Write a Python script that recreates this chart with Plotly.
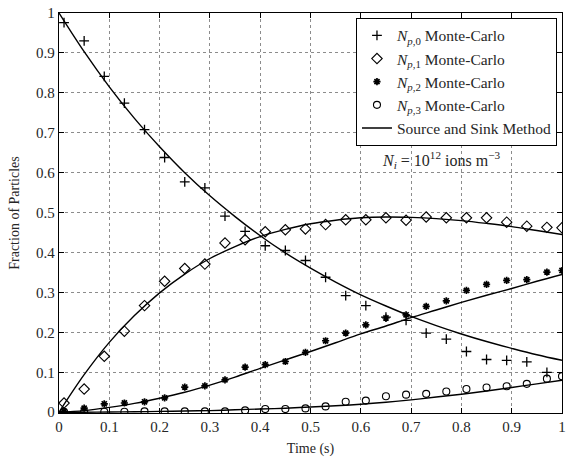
import plotly.graph_objects as go

# Monte-Carlo sample times and values
t_mc = [0.01, 0.05, 0.09, 0.13, 0.17, 0.21, 0.25, 0.29, 0.33, 0.37, 0.41, 0.45, 0.49,
        0.53, 0.57, 0.61, 0.65, 0.69, 0.73, 0.77, 0.81, 0.85, 0.89, 0.93, 0.97, 1.0]
n0_mc = [0.976, 0.930, 0.841, 0.774, 0.708, 0.638, 0.577, 0.562, 0.491, 0.453, 0.417,
         0.405, 0.380, 0.338, 0.292, 0.267, 0.238, 0.230, 0.198, 0.183, 0.152, 0.132,
         0.130, 0.126, 0.100]
n1_mc = [0.023, 0.058, 0.140, 0.203, 0.267, 0.328, 0.360, 0.371, 0.424, 0.432, 0.452,
         0.457, 0.459, 0.470, 0.482, 0.482, 0.487, 0.481, 0.489, 0.487, 0.487, 0.487,
         0.476, 0.466, 0.463, 0.462]
n2_mc = [0.002, 0.010, 0.021, 0.023, 0.026, 0.036, 0.063, 0.066, 0.081, 0.113, 0.119,
         0.127, 0.150, 0.179, 0.198, 0.219, 0.236, 0.244, 0.265, 0.279, 0.305, 0.320,
         0.330, 0.332, 0.351, 0.355]
n3_mc = [0.001, 0.001, 0.001, 0.001, 0.002, 0.002, 0.002, 0.002, 0.002, 0.0045, 0.008,
         0.008, 0.0095, 0.0145, 0.026, 0.029, 0.040, 0.044, 0.046, 0.052, 0.058, 0.062,
         0.065, 0.071, 0.084, 0.090]

# Source and Sink Method curves
t_ss = [0.0, 0.05, 0.1, 0.15, 0.2, 0.25, 0.3, 0.35, 0.4, 0.45, 0.5, 0.55, 0.6, 0.65,
        0.7, 0.75, 0.8, 0.85, 0.9, 0.95, 1.0]
n0_ss = [1.0, 0.903, 0.815, 0.736, 0.665, 0.600, 0.542, 0.490, 0.442, 0.399, 0.361,
         0.326, 0.294, 0.266, 0.240, 0.217, 0.196, 0.177, 0.160, 0.144, 0.130]
n1_ss = [0.0, 0.094, 0.175, 0.242, 0.299, 0.346, 0.385, 0.415, 0.440, 0.458, 0.472,
         0.481, 0.487, 0.489, 0.488, 0.485, 0.480, 0.473, 0.465, 0.455, 0.445]
n2_ss = [0.0, 0.004, 0.012, 0.022, 0.035, 0.050, 0.068, 0.088, 0.110, 0.131, 0.152,
         0.174, 0.196, 0.216, 0.237, 0.256, 0.275, 0.293, 0.310, 0.328, 0.345]
n3_ss = [0.0, 0.0, 0.0005, 0.001, 0.002, 0.003, 0.004, 0.006, 0.008, 0.010, 0.013,
         0.016, 0.020, 0.025, 0.031, 0.038, 0.045, 0.053, 0.062, 0.071, 0.080]

x_ticks = [0, 0.1, 0.2, 0.3, 0.4, 0.5, 0.6, 0.7, 0.8, 0.9, 1]
x_labels = ["0", "0.1", "0.2", "0.3", "0.4", "0.5", "0.6", "0.7", "0.8", "0.9", "1"]
y_ticks = [0, 0.1, 0.2, 0.3, 0.4, 0.5, 0.6, 0.7, 0.8, 0.9, 1]
y_labels = ["0", "0.1", "0.2", "0.3", "0.4", "0.5", "0.6", "0.7", "0.8", "0.9", "1"]

FONT = "Liberation Serif"
TXT = "#262626"

fig = go.Figure()

mc_series = [
    (n0_mc, "<i>N</i><sub><i>p</i>,0</sub> Monte-Carlo", "cross-thin", 7, 1.3),
    (n1_mc, "<i>N</i><sub><i>p</i>,1</sub> Monte-Carlo", "diamond-open", 8, 1.1),
    (n2_mc, "<i>N</i><sub><i>p</i>,2</sub> Monte-Carlo", "asterisk-open", 6, 1.7),
    (n3_mc, "<i>N</i><sub><i>p</i>,3</sub> Monte-Carlo", "circle-open", 7, 1.1),
]
for vals, name, sym, size, lw in mc_series:
    fig.add_trace(go.Scatter(
        x=t_mc[:len(vals)], y=vals, mode="markers", name=name,
        marker=dict(symbol=sym, size=size, color="black",
                    line=dict(color="black", width=lw)),
    ))

for i, vals in enumerate([n0_ss, n1_ss, n2_ss, n3_ss]):
    fig.add_trace(go.Scatter(
        x=t_ss, y=vals, mode="lines", name="Source and Sink Method",
        line=dict(color="black", width=1.4, shape="spline"),
        showlegend=(i == 0),
    ))

axis_common = dict(
    showline=True, linecolor="black", linewidth=1.4, mirror="ticks",
    ticks="inside", ticklen=5, tickcolor="black", tickwidth=1,
    showgrid=True, gridcolor="#8c8c8c", gridwidth=1, griddash="dot",
    tickfont=dict(family=FONT, size=15, color=TXT),
    ticklabeloverflow="allow",
)

fig.update_xaxes(range=[0, 1], tickvals=x_ticks, ticktext=x_labels, zeroline=False,
                 title=dict(text="Time (s)", font=dict(family=FONT, size=14, color=TXT),
                            standoff=8),
                 **axis_common)
fig.update_yaxes(range=[-0.002, 1], tickvals=y_ticks, ticktext=y_labels,
                 zeroline=True, zerolinecolor="black", zerolinewidth=2,
                 title=dict(text="Fraction of Particles", font=dict(family=FONT, size=14, color=TXT),
                            standoff=13),
                 **axis_common)

fig.add_annotation(
    x=0.76, y=0.632, xref="x", yref="y", showarrow=False,
    text="<i>N<sub>i</sub></i> = 10<sup>12</sup> ions m<sup>−3</sup>",
    font=dict(family=FONT, size=16, color=TXT),
)

fig.update_layout(
    width=566, height=459,
    margin=dict(l=59, r=0, t=13, b=46),
    paper_bgcolor="white", plot_bgcolor="white",
    font=dict(family=FONT, color=TXT),
    showlegend=True,
    legend=dict(
        x=0.99, y=0.988, xanchor="right", yanchor="top",
        bgcolor="white", bordercolor="black", borderwidth=1,
        font=dict(family=FONT, size=15.5, color=TXT),
        tracegroupgap=0, itemwidth=30,
    ),
)

fig.write_html("out.html")
